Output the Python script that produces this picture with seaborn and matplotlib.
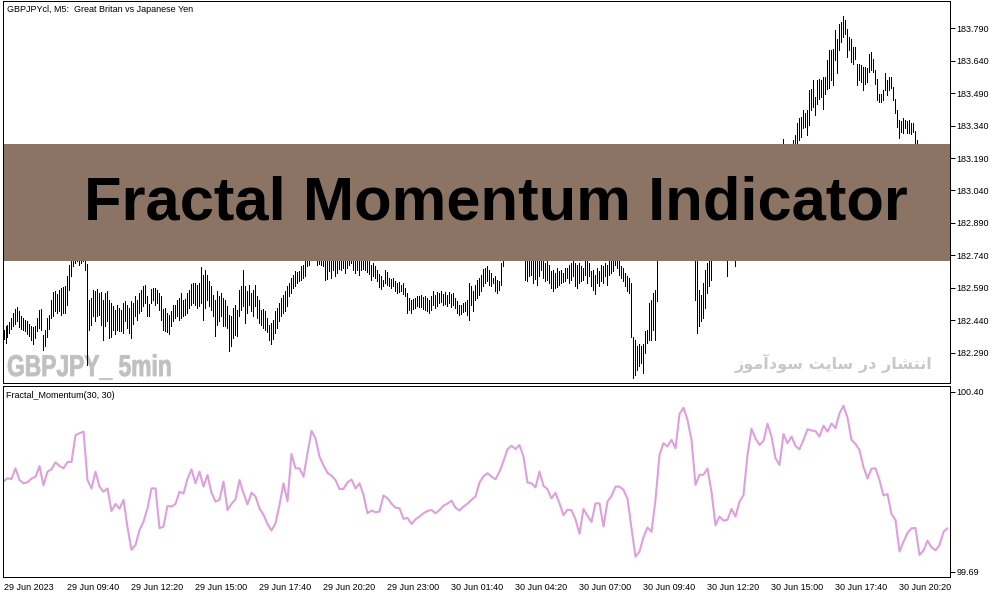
import matplotlib
matplotlib.use("Agg")
import matplotlib.pyplot as plt
from matplotlib.patches import Rectangle, PathPatch
from matplotlib.textpath import TextPath
from matplotlib.font_manager import FontProperties
from matplotlib.transforms import Affine2D, IdentityTransform
import seaborn as sns
import pandas as pd

# GBPJPY M5 bars, one high/low pair per bar (29 Jun 07:00 onwards)
bar_high = [
    182.397, 182.415, 182.420, 182.431, 182.451, 182.474, 182.492, 182.501, 182.481, 182.461,
    182.451, 182.443, 182.435, 182.424, 182.415, 182.409, 182.415, 182.451, 182.486, 182.492,
    182.374, 182.397, 182.451, 182.466, 182.532, 182.569, 182.574, 182.563, 182.578, 182.589,
    182.594, 182.600, 182.646, 182.697, 182.828, 182.812, 182.835, 182.843, 182.828, 182.820,
    182.812, 182.797, 182.700, 182.535, 182.543, 182.581, 182.574, 182.584, 182.566, 182.569,
    182.535, 182.566, 182.574, 182.535, 182.520, 182.504, 182.489, 182.512, 182.497, 182.489,
    182.520, 182.527, 182.512, 182.497, 182.527, 182.520, 182.551, 182.535, 182.566, 182.581,
    182.597, 182.604, 182.551, 182.517, 182.584, 182.589, 182.589, 182.581, 182.566, 182.551,
    182.492, 182.497, 182.474, 182.466, 182.481, 182.512, 182.512, 182.535, 182.543, 182.566,
    182.535, 182.538, 182.566, 182.581, 182.609, 182.612, 182.612, 182.604, 182.612, 182.686,
    182.651, 182.674, 182.651, 182.620, 182.597, 182.558, 182.535, 182.574, 182.551, 182.566,
    182.543, 182.535, 182.504, 182.466, 182.458, 182.497, 182.512, 182.489, 182.581, 182.597,
    182.671, 182.597, 182.574, 182.604, 182.566, 182.581, 182.604, 182.551, 182.535, 182.489,
    182.492, 182.481, 182.451, 182.420, 182.428, 182.440, 182.481, 182.497, 182.520, 182.543,
    182.558, 182.574, 182.597, 182.612, 182.635, 182.651, 182.666, 182.661, 182.666, 182.689,
    182.697, 182.728, 182.766, 182.797, 182.828, 182.843, 182.851, 182.797, 182.789, 182.766,
    182.751, 182.728, 182.720, 182.723, 182.720, 182.735, 182.720, 182.728, 182.720, 182.735,
    182.751, 182.728, 182.728, 182.751, 182.766, 182.735, 182.720, 182.728, 182.720, 182.728,
    182.728, 182.735, 182.717, 182.712, 182.697, 182.704, 182.689, 182.674, 182.655, 182.646,
    182.628, 182.674, 182.661, 182.635, 182.631, 182.635, 182.620, 182.612, 182.615, 182.604,
    182.612, 182.589, 182.566, 182.543, 182.535, 182.538, 182.543, 182.551, 182.554, 182.558,
    182.548, 182.551, 182.543, 182.535, 182.551, 182.574, 182.558, 182.569, 182.566, 182.574,
    182.563, 182.569, 182.558, 182.569, 182.563, 182.566, 182.543, 182.527, 182.512, 182.512,
    182.520, 182.523, 182.535, 182.612, 182.597, 182.574, 182.604, 182.628, 182.635, 182.651,
    182.677, 182.681, 182.689, 182.674, 182.658, 182.635, 182.643, 182.628, 182.620, 182.704,
    182.781, 182.812, 182.843, 182.858, 182.874, 182.881, 182.858, 182.843, 182.828, 182.812,
    182.797, 182.766, 182.758, 182.735, 182.751, 182.720, 182.728, 182.735, 182.743, 182.751,
    182.720, 182.704, 182.712, 182.697, 182.666, 182.674, 182.658, 182.681, 182.666, 182.674,
    182.658, 182.681, 182.681, 182.697, 182.704, 182.712, 182.704, 182.697, 182.704, 182.689,
    182.681, 182.720, 182.712, 182.704, 182.666, 182.674, 182.651, 182.681, 182.666, 182.697,
    182.689, 182.704, 182.697, 182.728, 182.712, 182.735, 182.743, 182.728, 182.720, 182.689,
    182.681, 182.658, 182.643, 182.635, 182.612, 182.363, 182.351, 182.320, 182.328, 182.320,
    182.328, 182.389, 182.397, 182.520, 182.535, 182.566, 182.581, 182.735, 182.812, 182.858,
    182.904, 182.935, 182.951, 182.966, 182.981, 183.012, 183.028, 183.035, 183.028, 183.043,
    183.058, 183.050, 183.028, 182.997, 182.951, 182.858, 182.781, 182.720, 182.581, 182.558,
    182.612, 182.674, 182.704, 182.735, 182.766, 182.812, 182.858, 182.874, 182.843, 182.858,
    182.828, 182.797, 182.812, 182.828, 182.858, 182.843, 182.828, 182.858, 182.889, 182.920,
    182.950, 182.940, 182.970, 183.000, 182.990, 183.020, 183.050, 183.040, 183.070, 183.100,
    183.090, 183.120, 183.150, 183.140, 183.170, 183.200, 183.190, 183.220, 183.240, 183.230,
    183.276, 183.242, 183.227, 183.234, 183.257, 183.273, 183.296, 183.350, 183.373, 183.381,
    183.411, 183.396, 183.411, 183.504, 183.511, 183.550, 183.473, 183.550, 183.557, 183.550,
    183.565, 183.565, 183.642, 183.688, 183.688, 183.696, 183.781, 183.742, 183.811, 183.819,
    183.845, 183.827, 183.788, 183.750, 183.742, 183.704, 183.704, 183.627, 183.627, 183.619,
    183.611, 183.611, 183.604, 183.673, 183.681, 183.650, 183.596, 183.557, 183.488, 183.488,
    183.504, 183.581, 183.550, 183.565, 183.565, 183.519, 183.465, 183.411, 183.365, 183.362,
    183.373, 183.368, 183.362, 183.365, 183.353, 183.350, 183.316, 183.273, 183.220, 183.190,
    183.170, 183.150, 183.160, 183.130, 183.110, 183.120, 183.090, 183.070, 183.080, 183.060,
    183.090, 183.110, 183.100,
]
bar_low = [
    182.354, 182.335, 182.363, 182.381, 182.400, 182.412, 182.424, 182.435, 182.409, 182.400,
    182.397, 182.389, 182.378, 182.369, 182.351, 182.332, 182.358, 182.389, 182.404, 182.397,
    182.304, 182.320, 182.363, 182.400, 182.451, 182.458, 182.481, 182.474, 182.481, 182.466,
    182.474, 182.474, 182.512, 182.581, 182.643, 182.689, 182.704, 182.712, 182.697, 182.704,
    182.712, 182.674, 182.235, 182.397, 182.420, 182.458, 182.435, 182.458, 182.466, 182.420,
    182.348, 182.412, 182.435, 182.358, 182.363, 182.397, 182.378, 182.397, 182.389, 182.389,
    182.381, 182.435, 182.404, 182.381, 182.358, 182.424, 182.458, 182.443, 182.474, 182.481,
    182.504, 182.520, 182.458, 182.458, 182.520, 182.535, 182.512, 182.520, 182.489, 182.443,
    182.397, 182.389, 182.384, 182.378, 182.412, 182.435, 182.451, 182.458, 182.443, 182.451,
    182.458, 182.466, 182.474, 182.497, 182.512, 182.520, 182.512, 182.497, 182.504, 182.520,
    182.440, 182.497, 182.535, 182.504, 182.489, 182.458, 182.366, 182.420, 182.435, 182.458,
    182.412, 182.412, 182.404, 182.297, 182.320, 182.358, 182.374, 182.366, 182.458, 182.489,
    182.504, 182.428, 182.474, 182.512, 182.481, 182.458, 182.504, 182.451, 182.428, 182.420,
    182.404, 182.397, 182.384, 182.348, 182.328, 182.354, 182.381, 182.404, 182.435, 182.458,
    182.474, 182.481, 182.504, 182.551, 182.566, 182.589, 182.597, 182.612, 182.620, 182.628,
    182.635, 182.643, 182.689, 182.697, 182.720, 182.728, 182.735, 182.697, 182.701, 182.697,
    182.689, 182.628, 182.631, 182.666, 182.635, 182.671, 182.646, 182.658, 182.677, 182.671,
    182.681, 182.658, 182.681, 182.697, 182.704, 182.671, 182.658, 182.671, 182.651, 182.674,
    182.677, 182.674, 182.661, 182.655, 182.628, 182.646, 182.635, 182.620, 182.594, 182.584,
    182.600, 182.612, 182.604, 182.600, 182.589, 182.597, 182.574, 182.566, 182.569, 182.574,
    182.563, 182.551, 182.474, 182.489, 182.474, 182.492, 182.497, 182.504, 182.501, 182.501,
    182.492, 182.489, 182.481, 182.474, 182.489, 182.512, 182.497, 182.504, 182.520, 182.523,
    182.512, 182.517, 182.508, 182.520, 182.501, 182.512, 182.497, 182.474, 182.466, 182.471,
    182.477, 182.481, 182.466, 182.440, 182.512, 182.481, 182.535, 182.543, 182.558, 182.574,
    182.597, 182.612, 182.620, 182.604, 182.597, 182.612, 182.574, 182.566, 182.581, 182.604,
    182.689, 182.735, 182.751, 182.766, 182.781, 182.789, 182.781, 182.766, 182.751, 182.743,
    182.735, 182.628, 182.620, 182.643, 182.651, 182.612, 182.631, 182.604, 182.643, 182.674,
    182.635, 182.620, 182.628, 182.612, 182.589, 182.574, 182.589, 182.594, 182.604, 182.612,
    182.615, 182.620, 182.635, 182.612, 182.628, 182.643, 182.600, 182.589, 182.612, 182.620,
    182.628, 182.651, 182.612, 182.643, 182.597, 182.581, 182.563, 182.612, 182.597, 182.620,
    182.612, 182.643, 182.604, 182.651, 182.658, 182.666, 182.697, 182.681, 182.651, 182.635,
    182.620, 182.597, 182.574, 182.566, 182.363, 182.174, 182.189, 182.212, 182.228, 182.243,
    182.197, 182.289, 182.335, 182.351, 182.351, 182.397, 182.351, 182.527, 182.720, 182.766,
    182.797, 182.828, 182.858, 182.874, 182.889, 182.904, 182.920, 182.935, 182.920, 182.935,
    182.951, 182.943, 182.920, 182.889, 182.828, 182.735, 182.535, 182.381, 182.412, 182.435,
    182.451, 182.497, 182.566, 182.597, 182.628, 182.735, 182.766, 182.781, 182.751, 182.774,
    182.735, 182.720, 182.643, 182.751, 182.781, 182.735, 182.689, 182.766, 182.797, 182.830,
    182.860, 182.870, 182.890, 182.920, 182.930, 182.950, 182.970, 182.980, 183.000, 183.020,
    183.030, 183.050, 183.070, 183.080, 183.100, 183.120, 183.130, 183.150, 183.170, 183.180,
    183.211, 183.181, 183.165, 183.173, 183.196, 183.211, 183.234, 183.254, 183.273, 183.288,
    183.327, 183.334, 183.296, 183.342, 183.411, 183.427, 183.388, 183.442, 183.465, 183.473,
    183.419, 183.488, 183.511, 183.516, 183.550, 183.527, 183.642, 183.581, 183.688, 183.727,
    183.750, 183.765, 183.657, 183.688, 183.634, 183.627, 183.650, 183.527, 183.550, 183.542,
    183.504, 183.534, 183.542, 183.588, 183.596, 183.588, 183.534, 183.457, 183.450, 183.450,
    183.457, 183.504, 183.481, 183.504, 183.516, 183.457, 183.396, 183.334, 183.281, 183.311,
    183.304, 183.327, 183.304, 183.304, 183.301, 183.311, 183.257, 183.196, 183.160, 183.130,
    183.100, 183.080, 183.090, 183.060, 183.040, 183.050, 183.020, 183.000, 183.010, 182.990,
    183.020, 183.040, 183.050,
]

# Fractal_Momentum(30, 30), read every second bar
momentum = [
    100.046, 100.059, 100.056, 100.098, 100.052, 100.039, 100.043, 100.058, 100.065, 100.107,
    100.031, 100.085, 100.094, 100.122, 100.107, 100.098, 100.123, 100.123, 100.229, 100.236,
    100.243, 100.052, 100.019, 100.085, 100.026, 100.006, 100.019, 99.930, 99.958, 99.939,
    99.974, 99.865, 99.777, 99.796, 99.855, 99.888, 99.941, 100.019, 100.019, 99.862,
    99.869, 99.950, 99.947, 99.958, 100.006, 99.999, 100.056, 100.094, 100.039, 100.085,
    100.026, 100.072, 100.002, 99.967, 99.974, 100.046, 99.934, 99.958, 99.976, 100.052,
    100.000, 99.956, 100.002, 99.987, 99.941, 99.915, 99.879, 99.853, 99.882, 99.954,
    100.039, 99.968, 100.155, 100.098, 100.098, 100.065, 100.157, 100.246, 100.216, 100.144,
    100.110, 100.080, 100.069, 100.052, 100.016, 100.017, 100.043, 100.054, 100.019, 100.039,
    99.993, 99.921, 99.932, 99.925, 99.928, 99.991, 99.980, 99.959, 99.943, 99.941,
    99.899, 99.903, 99.879, 99.897, 99.908, 99.921, 99.930, 99.934, 99.921, 99.934,
    99.951, 99.959, 99.971, 99.943, 99.932, 99.947, 99.959, 99.974, 99.987, 100.042,
    100.067, 100.079, 100.065, 100.055, 100.085, 100.127, 100.173, 100.187, 100.174, 100.190,
    100.144, 100.042, 100.039, 100.023, 100.085, 100.029, 100.016, 99.980, 100.002, 99.960,
    99.913, 99.935, 99.933, 99.897, 99.840, 99.938, 99.911, 99.887, 99.960, 99.960,
    99.869, 99.967, 99.989, 100.026, 100.026, 100.013, 99.978, 99.862, 99.750, 99.770,
    99.827, 99.865, 99.848, 99.974, 100.151, 100.197, 100.184, 100.210, 100.177, 100.312,
    100.337, 100.289, 100.210, 100.033, 100.072, 100.073, 100.097, 100.006, 99.874, 99.908,
    99.892, 99.895, 99.938, 99.908, 99.967, 99.993, 100.151, 100.254, 100.216, 100.190,
    100.206, 100.274, 100.223, 100.138, 100.111, 100.233, 100.197, 100.223, 100.186, 100.173,
    100.210, 100.252, 100.247, 100.245, 100.223, 100.266, 100.243, 100.275, 100.256, 100.315,
    100.344, 100.298, 100.210, 100.194, 100.170, 100.103, 100.058, 100.097, 100.098, 100.052,
    99.991, 99.997, 99.918, 99.895, 99.770, 99.809, 99.844, 99.862, 99.863, 99.757,
    99.774, 99.813, 99.787, 99.775, 99.796, 99.848, 99.862,
]

price_ticks = [182.290, 182.440, 182.590, 182.740, 182.890, 183.040,
               183.190, 183.340, 183.490, 183.640, 183.790]
momentum_ticks = [99.69, 100.40]
time_labels = ["29 Jun 2023", "29 Jun 09:40", "29 Jun 12:20", "29 Jun 15:00",
               "29 Jun 17:40", "29 Jun 20:20", "29 Jun 23:00", "30 Jun 01:40",
               "30 Jun 04:20", "30 Jun 07:00", "30 Jun 09:40", "30 Jun 12:20",
               "30 Jun 15:00", "30 Jun 17:40", "30 Jun 20:20"]

title_text = "GBPJPYcl, M5:  Great Britan vs Japanese Yen"
indicator_text = "Fractal_Momentum(30, 30)"
banner_text = "Fractal Momentum Indicator"
watermark_text = "GBPJPY_ 5min"
# "انتشار در سایت سودآموز", written in shaped forms, visual order
site_text = "\ufeaf\ufeee\ufee3\ufe81\ufea9\ufeee\ufeb3 \ufe96\ufef3\ufe8e\ufeb3 \ufead\ufea9 \ufead\ufe8e\ufeb8\ufe98\ufee7\ufe8d"

sns.set_style("white")
plt.rcParams["font.family"] = ["Liberation Sans", "DejaVu Sans"]

W, H = 1003, 598


def fx(px):
    return px / W


def fy(py):
    return 1 - py / H


fig = plt.figure(figsize=(W / 100, H / 100), dpi=100)
fig.patch.set_facecolor("white")
ax1 = fig.add_axes([fx(3), fy(383), fx(950) - fx(3), fy(1) - fy(383)])
ax2 = fig.add_axes([fx(3), fy(577), fx(950) - fx(3), fy(386) - fy(577)])

# price bars
bar_idx = list(range(len(bar_high)))
ax1.vlines(bar_idx, bar_low, bar_high, colors="black", linewidth=0.72,
           antialiased=False, zorder=3)

# indicator line
df = pd.DataFrame({"bar": list(range(0, 2 * len(momentum), 2)), "value": momentum})
sns.lineplot(data=df, x="bar", y="value", ax=ax2, color="#DDA0DD", linewidth=1.5)

for ax in (ax1, ax2):
    ax.set_xlim(-0.25, 473.25)
    ax.set_xlabel("")
    ax.set_ylabel("")
    ax.set_facecolor("white")
    for sp in ax.spines.values():
        sp.set_color("black")
        sp.set_linewidth(0.72)
    ax.yaxis.tick_right()
    ax.tick_params(axis="y", direction="out", length=3.6, width=0.72, pad=1.2,
                   labelsize=6.5, colors="black", left=False)

ax1.set_ylim(182.150, 183.916)
ax1.set_yticks(price_ticks)
ax1.set_yticklabels([f"{v:.3f}" for v in price_ticks])
ax1.tick_params(axis="x", bottom=False, labelbottom=False)

ax2.set_ylim(99.670, 100.4224)
ax2.set_yticks(momentum_ticks)
ax2.set_yticklabels([f"{v:.2f}" for v in momentum_ticks])
ax2.set_xticks(list(range(0, 32 * len(time_labels), 32)))
ax2.set_xticklabels(time_labels, ha="left")
ax2.tick_params(axis="x", direction="out", length=3.6, width=0.72, pad=1.0,
                labelsize=6.5, colors="black")

# texts inside the panels
ax1.text(fx(7), fy(10), title_text, transform=fig.transFigure, ha="left",
         va="center", fontsize=6.5, color="black")
ax2.text(fx(6), fy(396), indicator_text, transform=fig.transFigure, ha="left",
         va="center", fontsize=6.5, color="black")

# condensed watermark: bold glyph outlines squeezed sideways (pixel units)
wm_path = TextPath((0, 0), watermark_text, size=30,
                   prop=FontProperties(family="Liberation Sans", weight="bold"))
wm_tf = Affine2D().scale(0.76, 1.0).translate(7, H - 376) + IdentityTransform()
ax1.add_patch(PathPatch(wm_path, transform=wm_tf, facecolor="#C0C0C0",
                        edgecolor="#C0C0C0", linewidth=0.6, zorder=1,
                        clip_on=False))

ax1.text(fx(932), fy(369), site_text, transform=fig.transFigure, ha="right",
         va="baseline", fontsize=11.5, fontweight="bold", color="#C8C8C8",
         family=["DejaVu Sans"], zorder=1)

# banner over the price panel
fig.add_artist(Rectangle((fx(4), fy(260.7)), fx(950) - fx(4), fy(144) - fy(260.7),
                         transform=fig.transFigure, facecolor="#8B7464",
                         edgecolor="none", zorder=5))
fig.text(fx(495.5), fy(219.5), banner_text, ha="center", va="baseline",
         fontsize=44.3, fontweight="bold", color="black", zorder=6)

fig.savefig("out.png", dpi=100)
